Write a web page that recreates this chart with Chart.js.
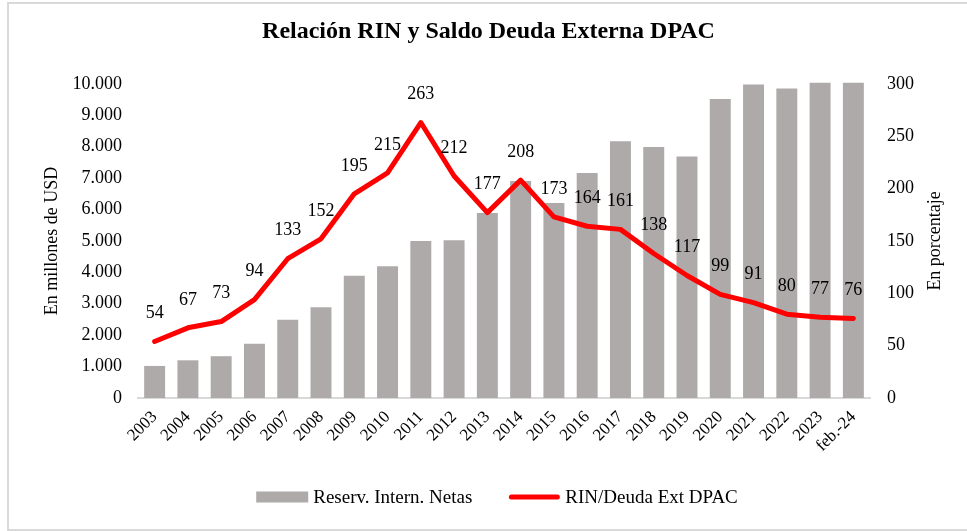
<!DOCTYPE html>
<html>
<head>
<meta charset="utf-8">
<script src="https://cdn.jsdelivr.net/npm/chart.js@4.4.1/dist/chart.umd.min.js"></script>
<style>
  html, body { margin: 0; padding: 0; background: #fff; overflow: hidden; }
  #frame { position: absolute; left: 7px; top: 2px; width: 980px; height: 525px; border: 2px solid #d9d9d9; }
  #chart { position: absolute; left: 0; top: 0; }
</style>
</head>
<body>
<div id="frame"></div>
<canvas id="chart" width="967" height="531"></canvas>
<script>
const years = ['2003', '2004', '2005', '2006', '2007', '2008', '2009', '2010', '2011', '2012', '2013',
    '2014', '2015', '2016', '2017', '2018', '2019', '2020', '2021', '2022', '2023', 'feb.-24'];
const reservas = [1020, 1200, 1330, 1730, 2490, 2890, 3890, 4190, 5000, 5020, 5890,
    6910, 6210, 7160, 8170, 7990, 7690, 9520, 9980, 9850, 10030, 10030];
const rinDeuda = [54, 67, 73, 94, 133, 152, 195, 215, 263, 212, 177,
    208, 173, 164, 161, 138, 117, 99, 91, 80, 77, 76];

const serif = "'Liberation Serif', 'Times New Roman', serif";
const fmtMiles = v => String(v).replace(/\B(?=(\d{3})+(?!\d))/g, '.');

// numbers above the red line
const lineLabels = {
    id: 'lineLabels',
    afterDatasetsDraw(chart) {
        const ctx = chart.ctx;
        const meta = chart.getDatasetMeta(1);
        ctx.save();
        ctx.font = '18px ' + serif;
        ctx.fillStyle = '#000';
        ctx.textAlign = 'center';
        ctx.textBaseline = 'middle';
        meta.data.forEach((pt, i) => {
            ctx.fillText(String(chart.data.datasets[1].data[i]), pt.x, pt.y - 28);
        });
        ctx.restore();
    }
};

// axis titles, both read bottom-to-top
const axisTitles = {
    id: 'axisTitles',
    afterDraw(chart) {
        const { ctx, chartArea } = chart;
        const midY = (chartArea.top + chartArea.bottom) / 2;
        ctx.save();
        ctx.font = '18px ' + serif;
        ctx.fillStyle = '#000';
        ctx.textAlign = 'center';
        ctx.textBaseline = 'middle';
        [[chartArea.left - 86, 'En millones de USD'], [chartArea.right + 65, 'En porcentaje']].forEach(([x, t]) => {
            ctx.save();
            ctx.translate(x, midY);
            ctx.rotate(-Math.PI / 2);
            ctx.fillText(t, 0, 0);
            ctx.restore();
        });
        ctx.restore();
    }
};

// legend under the axis
const bottomLegend = {
    id: 'bottomLegend',
    afterDraw(chart) {
        const { ctx, chartArea } = chart;
        const ds = chart.data.datasets;
        const sw = 52, gap = 5, between = 36, y = 497;
        ctx.save();
        ctx.font = '19px ' + serif;
        const widths = ds.map(d => ctx.measureText(d.label).width);
        const total = widths.reduce((a, w) => a + sw + gap + w, 0) + between * (ds.length - 1);
        let x = (chartArea.left + chartArea.right) / 2 - 7 - total / 2;
        ds.forEach((d, i) => {
            if (d.type === 'line') {
                ctx.strokeStyle = d.borderColor;
                ctx.lineWidth = 5;
                ctx.lineCap = 'round';
                ctx.beginPath();
                ctx.moveTo(x + 3, y);
                ctx.lineTo(x + sw - 3, y);
                ctx.stroke();
            } else {
                ctx.fillStyle = d.backgroundColor;
                ctx.fillRect(x, y - 5.5, sw, 11);
            }
            ctx.fillStyle = '#000';
            ctx.textAlign = 'left';
            ctx.textBaseline = 'middle';
            ctx.fillText(d.label, x + sw + gap, y + 1);
            x += sw + gap + widths[i] + between;
        });
        ctx.restore();
    }
};

new Chart(document.getElementById('chart').getContext('2d'), {
    data: {
        labels: years,
        datasets: [{
            type: 'bar',
            label: 'Reserv. Intern. Netas',
            data: reservas,
            backgroundColor: '#aeaaaa',
            barPercentage: 0.63,
            categoryPercentage: 1,
            yAxisID: 'y',
            clip: false,
            order: 1
        }, {
            type: 'line',
            label: 'RIN/Deuda Ext DPAC',
            data: rinDeuda,
            borderColor: '#ff0000',
            backgroundColor: '#ff0000',
            borderWidth: 5,
            borderCapStyle: 'round',
            borderJoinStyle: 'round',
            pointRadius: 0,
            tension: 0,
            yAxisID: 'y1',
            order: 0
        }]
    },
    options: {
        responsive: false,
        animation: false,
        layout: { padding: { left: 18, right: 8, top: 0, bottom: 58 } },
        plugins: {
            legend: { display: false },
            tooltip: { enabled: false },
            title: {
                display: true,
                text: 'Relación RIN y Saldo Deuda Externa DPAC',
                color: '#000',
                font: { family: serif, size: 24, weight: 'bold' },
                padding: { top: 17, bottom: 38 }
            }
        },
        scales: {
            x: {
                grid: { display: false, drawTicks: false },
                border: { display: true, color: '#d9d9d9', width: 2 },
                ticks: {
                    color: '#000',
                    font: { family: serif, size: 17 },
                    maxRotation: 45,
                    minRotation: 45,
                    autoSkip: false,
                    padding: 9
                },
                afterFit: s => { s.height = 75; }
            },
            y: {
                position: 'left',
                min: 0,
                max: 10000,
                grid: { display: false, drawTicks: false },
                border: { display: false },
                ticks: {
                    stepSize: 1000,
                    color: '#000',
                    font: { family: serif, size: 18 },
                    padding: 16,
                    callback: v => fmtMiles(v)
                },
                afterFit: s => { s.width = 120; }
            },
            y1: {
                position: 'right',
                min: 0,
                max: 300,
                grid: { display: false, drawTicks: false },
                border: { display: false },
                ticks: {
                    stepSize: 50,
                    color: '#000',
                    font: { family: serif, size: 18 },
                    padding: 17
                },
                afterFit: s => { s.width = 89; }
            }
        }
    },
    plugins: [lineLabels, axisTitles, bottomLegend]
});
</script>
</body>
</html>
